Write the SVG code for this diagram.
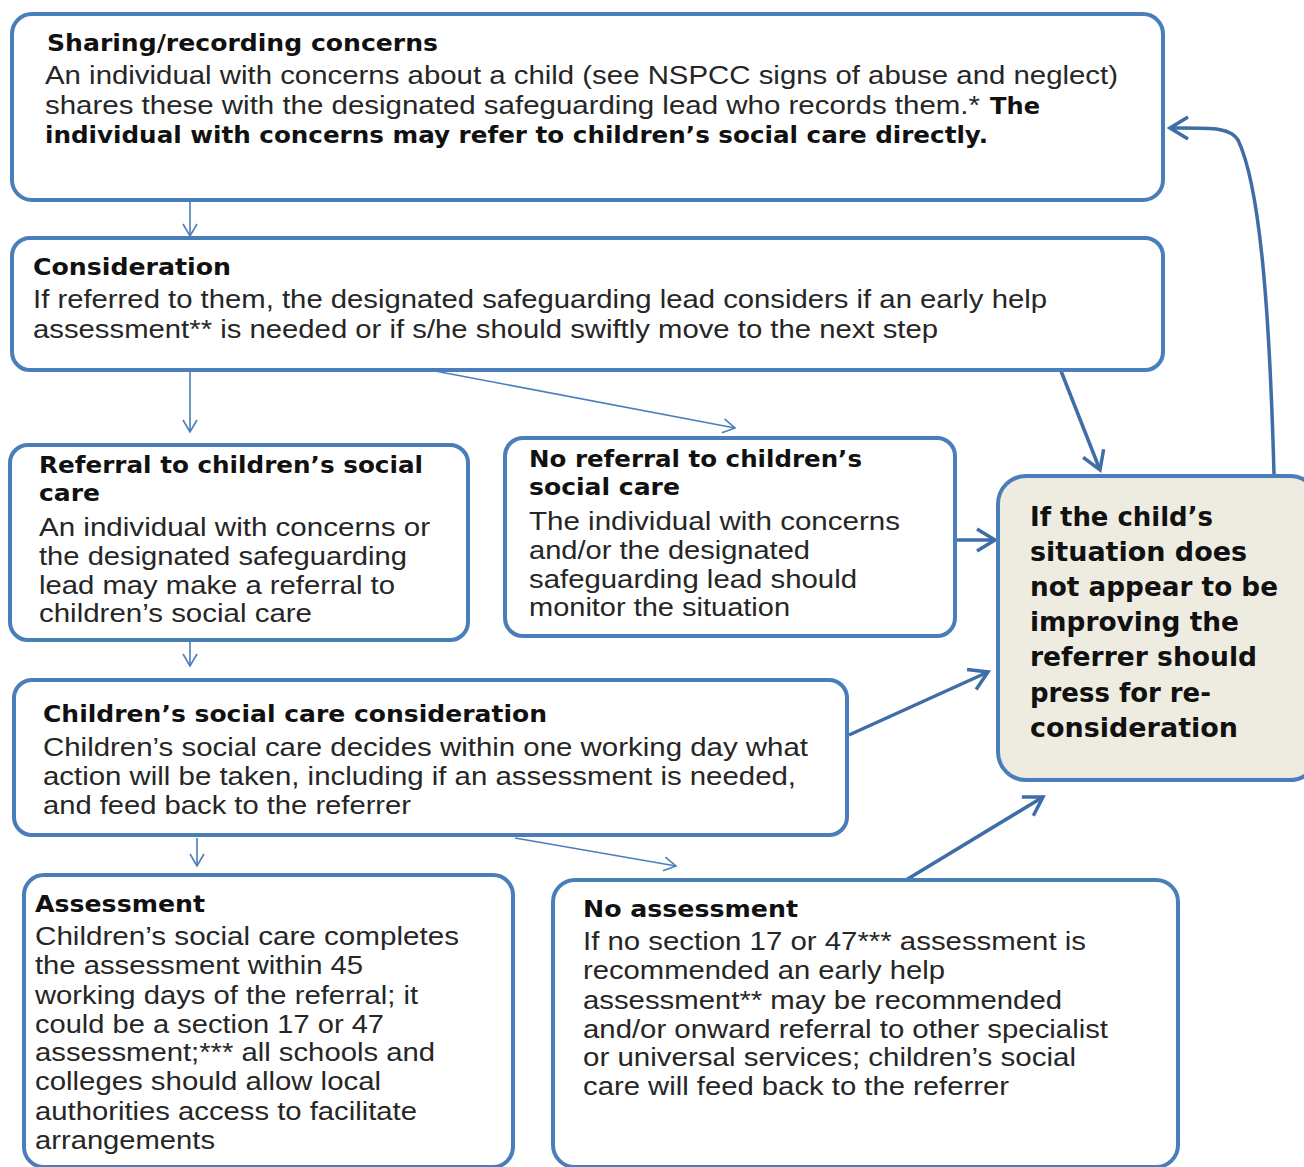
<svg xmlns="http://www.w3.org/2000/svg" width="1304" height="1167" viewBox="0 0 1304 1167">
<defs>
<style>
.box{fill:#ffffff;stroke:#4a7ebb;stroke-width:4}
.grey{fill:#eeece1;stroke:#4a7ebb;stroke-width:4}
.t{font-family:"DejaVu Sans","Liberation Sans",sans-serif;font-weight:bold;font-size:23px;fill:#111}
.b{font-family:"Liberation Sans",Arial,sans-serif;font-size:25px;fill:#262626}
.bb{font-family:"DejaVu Sans","Liberation Sans",sans-serif;font-weight:bold;font-size:23px;fill:#111}
.g{font-family:"DejaVu Sans","Liberation Sans",sans-serif;font-weight:bold;font-size:26px;fill:#111}
.thin{fill:none;stroke:#4a7ebb;stroke-width:1.6}
.thick{fill:none;stroke:#3e6da8;stroke-width:3.5}
</style>
<marker id="ma" viewBox="-14 -9 16 18" refX="0" refY="0" markerWidth="16" markerHeight="18" markerUnits="userSpaceOnUse" orient="auto">
<path d="M-12,-7 L0,0 L-12,7" fill="none" stroke="#4a7ebb" stroke-width="1.6"/>
</marker>
<marker id="mb" viewBox="-22 -13 25 26" refX="0" refY="0" markerWidth="25" markerHeight="26" markerUnits="userSpaceOnUse" orient="auto">
<path d="M-18,-11 L0,0 L-18,11" fill="none" stroke="#3e6da8" stroke-width="3.5"/>
</marker>
</defs>
<rect width="1304" height="1167" fill="#ffffff"/>

<g id="connectors">
<line class="thin" x1="190" y1="201" x2="190" y2="236" marker-end="url(#ma)"/>
<line class="thin" x1="190" y1="372" x2="190" y2="432" marker-end="url(#ma)"/>
<line class="thin" x1="435" y1="371" x2="735" y2="428" marker-end="url(#ma)"/>
<line class="thin" x1="190" y1="642" x2="190" y2="666" marker-end="url(#ma)"/>
<line class="thin" x1="197" y1="838" x2="197" y2="866" marker-end="url(#ma)"/>
<line class="thin" x1="515" y1="838" x2="676" y2="866" marker-end="url(#ma)"/>
<line class="thick" x1="1061" y1="371" x2="1100" y2="470" marker-end="url(#mb)"/>
<line class="thick" x1="956" y1="540" x2="995" y2="540" marker-end="url(#mb)"/>
<line class="thick" x1="849" y1="735" x2="988" y2="672" marker-end="url(#mb)"/>
<line class="thick" x1="906" y1="880" x2="1043" y2="797" marker-end="url(#mb)"/>
<path class="thick" d="M1274,474 C1270,330 1262,190 1238,140 C1230,127 1212,128 1170,128" marker-end="url(#mb)"/>
</g>

<g id="sharing">
<rect class="box" x="12" y="14" width="1151" height="186" rx="20"/>
<text class="t" x="47" y="51" textLength="391" lengthAdjust="spacingAndGlyphs">Sharing/recording concerns</text>
<text class="b" x="45" y="84" textLength="1073" lengthAdjust="spacingAndGlyphs">An individual  with concerns about a child (see NSPCC signs of abuse and neglect)</text>
<text class="b" x="45" y="114" textLength="935" lengthAdjust="spacingAndGlyphs">shares these with the designated safeguarding lead who records them.*</text>
<text class="bb" x="990" y="114" textLength="50" lengthAdjust="spacingAndGlyphs">The</text>
<text class="bb" x="45" y="143" textLength="943" lengthAdjust="spacingAndGlyphs">individual with concerns may  refer to children’s social care directly.</text>
</g>

<g id="consideration">
<rect class="box" x="12" y="238" width="1151" height="132" rx="18"/>
<text class="t" x="33" y="275" textLength="198" lengthAdjust="spacingAndGlyphs">Consideration</text>
<text class="b" x="33" y="308" textLength="1014" lengthAdjust="spacingAndGlyphs">If referred to them, the designated safeguarding lead considers if an early help</text>
<text class="b" x="33" y="338" textLength="905" lengthAdjust="spacingAndGlyphs">assessment** is needed or if s/he should swiftly move to the next step</text>
</g>

<g id="referral">
<rect class="box" x="10" y="445" width="458" height="195" rx="18"/>
<text class="t" x="39" y="473" textLength="384" lengthAdjust="spacingAndGlyphs">Referral to children’s social</text>
<text class="t" x="39" y="501" textLength="61" lengthAdjust="spacingAndGlyphs">care</text>
<text class="b" x="39" y="536" textLength="391" lengthAdjust="spacingAndGlyphs">An individual  with concerns or</text>
<text class="b" x="39" y="565" textLength="368" lengthAdjust="spacingAndGlyphs">the designated safeguarding</text>
<text class="b" x="39" y="594" textLength="356" lengthAdjust="spacingAndGlyphs">lead may make a referral to</text>
<text class="b" x="39" y="622" textLength="273" lengthAdjust="spacingAndGlyphs">children’s social care</text>
</g>

<g id="noreferral">
<rect class="box" x="505" y="438" width="450" height="198" rx="18"/>
<text class="t" x="529" y="467" textLength="333" lengthAdjust="spacingAndGlyphs">No referral to children’s</text>
<text class="t" x="529" y="495" textLength="151" lengthAdjust="spacingAndGlyphs">social care</text>
<text class="b" x="529" y="530" textLength="371" lengthAdjust="spacingAndGlyphs">The individual  with concerns</text>
<text class="b" x="529" y="559" textLength="281" lengthAdjust="spacingAndGlyphs">and/or the designated</text>
<text class="b" x="529" y="588" textLength="328" lengthAdjust="spacingAndGlyphs">safeguarding lead should</text>
<text class="b" x="529" y="616" textLength="261" lengthAdjust="spacingAndGlyphs">monitor the situation</text>
</g>

<g id="cscconsideration">
<rect class="box" x="14" y="680" width="833" height="155" rx="18"/>
<text class="t" x="43" y="722" textLength="504" lengthAdjust="spacingAndGlyphs">Children’s social care consideration</text>
<text class="b" x="43" y="756" textLength="765" lengthAdjust="spacingAndGlyphs">Children’s social care decides within one working day what</text>
<text class="b" x="43" y="785" textLength="753" lengthAdjust="spacingAndGlyphs">action will be taken, including if an assessment is needed,</text>
<text class="b" x="43" y="814" textLength="368" lengthAdjust="spacingAndGlyphs">and feed back to the referrer</text>
</g>

<g id="assessment">
<rect class="box" x="24" y="875" width="489" height="292" rx="20"/>
<text class="t" x="35" y="912" textLength="170" lengthAdjust="spacingAndGlyphs">Assessment</text>
<text class="b" x="35" y="945" textLength="424" lengthAdjust="spacingAndGlyphs">Children’s social care completes</text>
<text class="b" x="35" y="974" textLength="328" lengthAdjust="spacingAndGlyphs">the assessment within 45</text>
<text class="b" x="35" y="1004" textLength="383" lengthAdjust="spacingAndGlyphs">working days of the referral; it</text>
<text class="b" x="35" y="1033" textLength="349" lengthAdjust="spacingAndGlyphs">could be a section 17 or 47</text>
<text class="b" x="35" y="1061" textLength="400" lengthAdjust="spacingAndGlyphs">assessment;*** all schools and</text>
<text class="b" x="35" y="1090" textLength="346" lengthAdjust="spacingAndGlyphs">colleges should allow local</text>
<text class="b" x="35" y="1120" textLength="382" lengthAdjust="spacingAndGlyphs">authorities access to facilitate</text>
<text class="b" x="35" y="1149" textLength="180" lengthAdjust="spacingAndGlyphs">arrangements</text>
</g>

<g id="noassessment">
<rect class="box" x="553" y="880" width="625" height="287" rx="22"/>
<text class="t" x="583" y="917" textLength="215" lengthAdjust="spacingAndGlyphs">No assessment</text>
<text class="b" x="583" y="950" textLength="503" lengthAdjust="spacingAndGlyphs">If no section 17 or 47*** assessment is</text>
<text class="b" x="583" y="979" textLength="362" lengthAdjust="spacingAndGlyphs">recommended an early help</text>
<text class="b" x="583" y="1009" textLength="479" lengthAdjust="spacingAndGlyphs">assessment** may be recommended</text>
<text class="b" x="583" y="1038" textLength="525" lengthAdjust="spacingAndGlyphs">and/or onward referral to other specialist</text>
<text class="b" x="583" y="1066" textLength="493" lengthAdjust="spacingAndGlyphs">or universal services; children’s social</text>
<text class="b" x="583" y="1095" textLength="426" lengthAdjust="spacingAndGlyphs">care will feed back to the referrer</text>
</g>

<g id="press">
<rect class="grey" x="998" y="476" width="320" height="304" rx="28"/>
<text class="g" x="1030" y="526" textLength="183" lengthAdjust="spacingAndGlyphs">If the child’s</text>
<text class="g" x="1030" y="561" textLength="217" lengthAdjust="spacingAndGlyphs">situation does</text>
<text class="g" x="1030" y="596" textLength="248" lengthAdjust="spacingAndGlyphs">not appear to be</text>
<text class="g" x="1030" y="631" textLength="209" lengthAdjust="spacingAndGlyphs">improving the</text>
<text class="g" x="1030" y="666" textLength="227" lengthAdjust="spacingAndGlyphs">referrer should</text>
<text class="g" x="1030" y="702" textLength="181" lengthAdjust="spacingAndGlyphs">press for re-</text>
<text class="g" x="1030" y="737" textLength="208" lengthAdjust="spacingAndGlyphs">consideration</text>
</g>
</svg>
